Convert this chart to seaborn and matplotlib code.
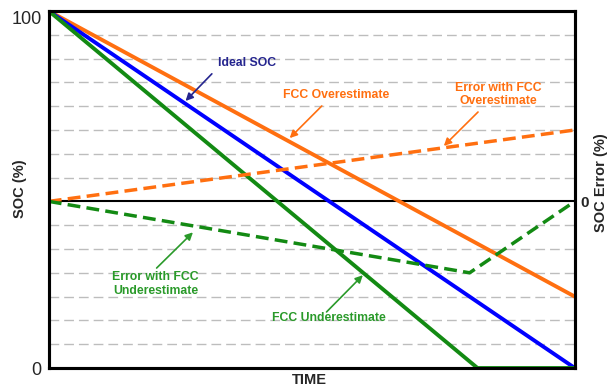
import matplotlib
matplotlib.use("Agg")
import matplotlib.pyplot as plt
import seaborn as sns
import numpy as np

# values (time runs 0..1, SOC in %, error in grid steps)
ideal_time = [0, 1]
ideal_soc = [100, 0]
over_time = [0, 1]
over_soc = [100, 20]
under_time = [0, 0.815, 1]
under_soc = [100, 0, 0]
err_over_time = [0, 1]
err_over = [0, 3]
err_under_time = [0, 0.667, 0.8, 1]
err_under = [0, -2.5, -3, 0]

ORANGE = "#FF6F10"
BLUE = "#0000FF"
GREEN = "#138A13"
GREEN_TXT = "#2A9A2A"
NAVY = "#25258F"

sns.set_style("white")
plt.rcParams["font.family"] = ["Liberation Sans", "DejaVu Sans"]

fig = plt.figure(figsize=(6.1, 3.91), dpi=100)
ax = fig.add_axes([0.080, 0.0588, 0.8623, 0.9131])

# dashed grid every 1/15 of the height, solid zero line for the error scale
for k in range(1, 15):
    if k == 7:
        continue
    ln = ax.axhline(k * 100 / 15, color="#BDBDBD", lw=1.0, zorder=0)
    ln.set_dashes([7, 3.6])
ax.axhline(7 * 100 / 15, color="black", lw=1.5, zorder=1)

sns.lineplot(x=over_time, y=over_soc, ax=ax, color=ORANGE, linewidth=2.8, zorder=3)
sns.lineplot(x=ideal_time, y=ideal_soc, ax=ax, color=BLUE, linewidth=2.8, zorder=3)
sns.lineplot(x=under_time, y=under_soc, ax=ax, color=GREEN, linewidth=2.8, zorder=3)

ax.set_xlim(0, 1)
ax.set_ylim(0, 100)
ax.set_xticks([])
ax.set_yticks([0, 100])
ax.set_yticklabels(["0", "100"], fontsize=13)
ax.get_yticklabels()[1].set_va("top")
ax.tick_params(axis="y", length=0, pad=5)
ax.set_xlabel("")
ax.set_ylabel("")
for sp in ax.spines.values():
    sp.set_linewidth(2.2)
    sp.set_color("black")

ax2 = ax.twinx()
sns.lineplot(x=err_over_time, y=err_over, ax=ax2, color=ORANGE, linewidth=2.5)
ax2.lines[-1].set_dashes([3.7, 1.8])
sns.lineplot(x=err_under_time, y=err_under, ax=ax2, color=GREEN, linewidth=2.5)
ax2.lines[-1].set_dashes([3.7, 1.8])
ax2.set_ylim(-7, 8)
ax2.set_xlim(0, 1)
ax2.set_yticks([0])
ax2.set_yticklabels(["0"], fontsize=11, fontweight="bold")
ax2.tick_params(axis="y", length=0, pad=4)
ax2.set_ylabel("")
for sp in ax2.spines.values():
    sp.set_linewidth(2.2)
    sp.set_color("black")

# annotations
def note(text, xy, xytext, tail, color, fs=8.8):
    ax.text(xytext[0], xytext[1], text, color=color, fontsize=fs, fontweight="bold",
            ha="center", va="center", linespacing=1.2, zorder=5)
    ax.annotate("", xy=xy, xytext=tail,
                arrowprops=dict(arrowstyle="-|>", color=color, lw=1.2,
                                mutation_scale=11, shrinkA=0, shrinkB=0), zorder=5)

note("Ideal SOC", (0.260, 74.8), (0.376, 85.4), (0.310, 82.4), NAVY)
note("FCC Overestimate", (0.458, 64.4), (0.546, 76.5), (0.519, 73.4), ORANGE)
note("Error with FCC\nOverestimate", (0.751, 62.2), (0.854, 76.6), (0.816, 71.7), ORANGE)
note("Error with FCC\nUnderestimate", (0.274, 38.0), (0.203, 23.6), (0.205, 28.0), GREEN_TXT)
note("FCC Underestimate", (0.597, 26.0), (0.532, 14.0), (0.528, 15.7), GREEN_TXT)

fig.text(20 / 610, 1 - 189 / 391, "SOC (%)", rotation=90, fontsize=10.5,
         fontweight="bold", ha="center", va="center")
fig.text(601 / 610, 1 - 183 / 391, "SOC Error (%)", rotation=90, fontsize=10.5,
         fontweight="bold", ha="center", va="center")
fig.text(309 / 610, 1 - 380 / 391, "TIME", fontsize=10.5, fontweight="bold",
         ha="center", va="center")

fig.savefig("out.png", dpi=100)
